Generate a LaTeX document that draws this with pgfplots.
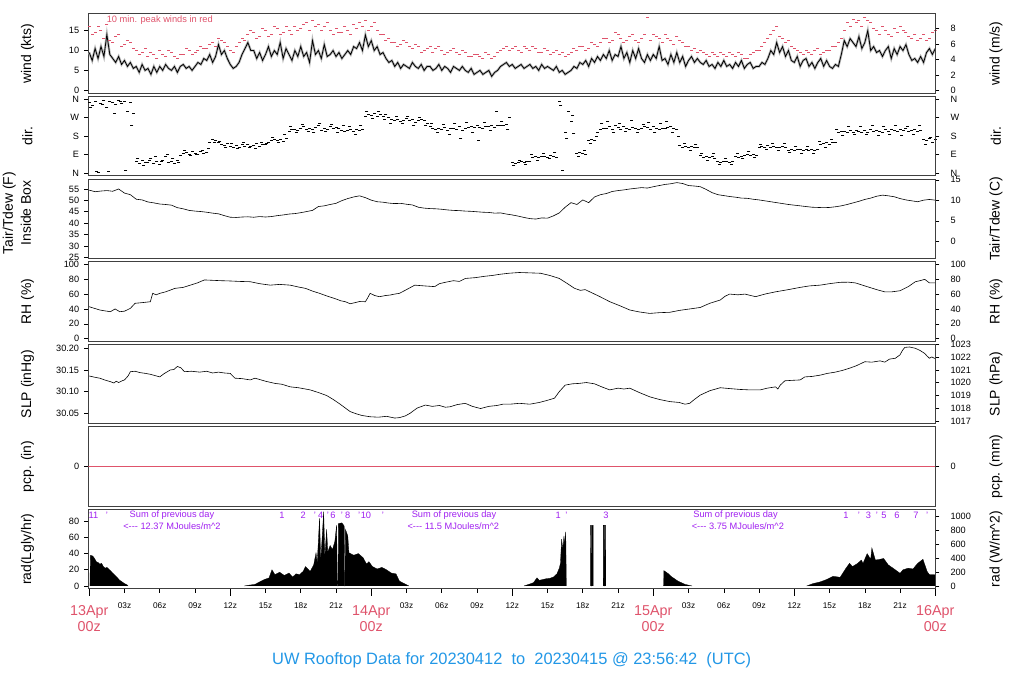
\documentclass[border=0pt]{standalone}
\usepackage{fontspec}
\setmainfont{Liberation Sans}
\usepackage{pgfplots}
\pgfplotsset{compat=1.18}
\definecolor{rred}{HTML}{DF536B}
\definecolor{rblue}{HTML}{2297E6}
\definecolor{rpurple}{HTML}{A020F0}
\newcommand{\tfs}{\fontsize{9.2}{11}\selectfont}
\newcommand{\lfs}{\fontsize{14}{16}\selectfont}
\newcommand{\sfs}{\fontsize{9.3}{11}\selectfont}
\pgfplotsset{
 base/.style={scale only axis, width=847bp, height=79.3bp, xmin=-0.08, xmax=72, clip mode=individual,
   tick align=outside, major tick length=4bp, tick style={black, line width=0.6bp},
   axis line style={black!75, line width=1bp}},
 lp/.style={base, ytick pos=left, xtick=\empty, yticklabel style={font=\tfs, inner sep=0pt, anchor=east, xshift=-5bp}},
 rp/.style={base, axis x line=none, axis y line*=right, yticklabel style={font=\tfs, inner sep=0pt, anchor=west, xshift=11bp}},
}
\tikzset{
 pline/.style={black, line width=0.6bp},
 pnum/.style={text=rpurple, font=\sfs},
}
\begin{document}
\begin{tikzpicture}[x=1bp,y=1bp]
\path[use as bounding box] (0,0) rectangle (1024,700);

% ---------------- wind ----------------
\begin{axis}[lp, at={(88.3bp,606.7bp)}, ymin=-0.755, ymax=19.2, ytick={0,5,10,15}, yticklabels={0,5,10,15}]
\addplot[gray!55, line width=2.4bp] coordinates {
(0,9.5)(0.25,7.5)(0.5,10.5)(0.75,8)(1,11)(1.25,8.5)(1.5,14)(1.75,9)(2,8)(2.25,7)(2.5,8.5)(2.75,6.5)
(3,7.5)(3.25,6)(3.5,7)(3.75,5.5)(4,6)(4.25,4.5)(4.5,6.5)(4.75,5)(5,5.5)(5.25,4)(5.5,6)(5.75,4.5)
(6,6)(6.25,5)(6.5,6.5)(6.75,5.5)(7,5)(7.25,6)(7.5,4.5)(7.75,6)(8,6.5)(8.25,5.5)(8.5,6)(8.75,5)
(9,6)(9.25,7)(9.5,6.5)(9.75,8)(10,7.5)(10.25,9)(10.5,7)(10.75,8.5)(11,11.5)(11.25,9)(11.5,10)(11.75,8)
(12,6.5)(12.25,5.5)(12.5,6)(12.75,7)(13,9)(13.25,10.5)(13.5,12)(13.75,10)(14,10)(14.25,8)(14.5,9.5)(14.75,7.5)
(15,9)(15.25,11)(15.5,8.5)(15.75,10)(16,9)(16.25,12)(16.5,8)(16.75,10.5)(17,9)(17.25,7.5)(17.5,10)(17.75,8.5)
(18,11)(18.25,8.5)(18.5,9.5)(18.75,7)(19,12.5)(19.25,9)(19.5,10)(19.75,8)(20,11.5)(20.25,8.5)(20.5,9)(20.75,10)
(21,8.5)(21.25,9.5)(21.5,8)(21.75,9)(22,10)(22.25,9)(22.5,11)(22.75,10.5)(23,12)(23.25,10)(23.5,13.9)(23.75,11)
(24,12.5)(24.25,10)(24.5,11)(24.75,9)(25,9.5)(25.25,8)(25.5,7)(25.75,7.5)(26,6)(26.25,7)(26.5,5.5)(26.75,6.5)
(27,6)(27.25,5.5)(27.5,7)(27.75,6)(28,5.5)(28.25,6.5)(28.5,5)(28.75,6)(29,6)(29.25,5)(29.5,5.5)(29.75,6.5)
(30,5)(30.25,6)(30.5,5.5)(30.75,4.5)(31,6)(31.25,5.5)(31.5,5)(31.75,6)(32,5)(32.25,4.5)(32.5,5.5)(32.75,4)
(33,4.5)(33.25,5)(33.5,4)(33.75,4.5)(34,5)(34.25,3.5)(34.5,4.5)(34.75,5)(35,6)(35.25,6.5)(35.5,7)(35.75,6)
(36,6.5)(36.25,5.5)(36.5,6)(36.75,6.5)(37,5.5)(37.25,6)(37.5,6.5)(37.75,5.5)(38,6)(38.25,5)(38.5,6.5)(38.75,5.5)
(39,6)(39.25,5.5)(39.5,5)(39.75,6)(40,4.5)(40.25,5)(40.5,4)(40.75,4.5)(41,5)(41.25,6)(41.5,5.5)(41.75,7)
(42,6.5)(42.25,7.5)(42.5,6)(42.75,8)(43,7)(43.25,8.5)(43.5,7.5)(43.75,9)(44,8)(44.25,10)(44.5,7.5)(44.75,9)
(45,8.5)(45.25,11)(45.5,8)(45.75,9.5)(46,7)(46.25,10)(46.5,8)(46.75,10.5)(47,8)(47.25,7)(47.5,9)(47.75,7.5)
(48,9)(48.25,8)(48.5,11)(48.75,7.5)(49,8)(49.25,6.5)(49.5,9)(49.75,7)(50,9.5)(50.25,7)(50.5,8.5)(50.75,6)
(51,7.5)(51.25,8.5)(51.5,7)(51.75,8)(52,7)(52.25,6.5)(52.5,7.5)(52.75,6)(53,6.5)(53.25,5.5)(53.5,7)(53.75,6)
(54,7.5)(54.25,6)(54.5,6.5)(54.75,5.5)(55,7)(55.25,6)(55.5,7.5)(55.75,5.5)(56,6.5)(56.25,7)(56.5,5.5)(56.75,6)
(57,6)(57.25,7)(57.5,6.5)(57.75,8)(58,10)(58.25,9)(58.5,12)(58.75,9.5)(59,11)(59.25,8.5)(59.5,10)(59.75,7.5)
(60,7)(60.25,8.5)(60.5,6)(60.75,7.5)(61,8)(61.25,6)(61.5,7)(61.75,5.5)(62,7)(62.25,8)(62.5,6)(62.75,7.5)
(63,6)(63.25,5.5)(63.5,6.5)(63.75,6)(64,9)(64.25,12.5)(64.5,11)(64.75,13)(65,12)(65.25,11)(65.5,13.5)(65.75,10.5)
(66,12)(66.25,15)(66.5,10)(66.75,11)(67,9.5)(67.25,10)(67.5,8.5)(67.75,10)(68,11)(68.25,8)(68.5,10.5)(68.75,9)
(69,11)(69.25,10)(69.5,11.5)(69.75,9)(70,7.5)(70.25,8)(70.5,7)(70.75,8.5)(71,7)(71.25,9.5)(71.5,10.5)(71.75,9)(72,10.5)};
\addplot[black, line width=0.8bp] coordinates {
(0,9.5)(0.25,7.5)(0.5,10.5)(0.75,8)(1,11)(1.25,8.5)(1.5,14)(1.75,9)(2,8)(2.25,7)(2.5,8.5)(2.75,6.5)
(3,7.5)(3.25,6)(3.5,7)(3.75,5.5)(4,6)(4.25,4.5)(4.5,6.5)(4.75,5)(5,5.5)(5.25,4)(5.5,6)(5.75,4.5)
(6,6)(6.25,5)(6.5,6.5)(6.75,5.5)(7,5)(7.25,6)(7.5,4.5)(7.75,6)(8,6.5)(8.25,5.5)(8.5,6)(8.75,5)
(9,6)(9.25,7)(9.5,6.5)(9.75,8)(10,7.5)(10.25,9)(10.5,7)(10.75,8.5)(11,11.5)(11.25,9)(11.5,10)(11.75,8)
(12,6.5)(12.25,5.5)(12.5,6)(12.75,7)(13,9)(13.25,10.5)(13.5,12)(13.75,10)(14,10)(14.25,8)(14.5,9.5)(14.75,7.5)
(15,9)(15.25,11)(15.5,8.5)(15.75,10)(16,9)(16.25,12)(16.5,8)(16.75,10.5)(17,9)(17.25,7.5)(17.5,10)(17.75,8.5)
(18,11)(18.25,8.5)(18.5,9.5)(18.75,7)(19,12.5)(19.25,9)(19.5,10)(19.75,8)(20,11.5)(20.25,8.5)(20.5,9)(20.75,10)
(21,8.5)(21.25,9.5)(21.5,8)(21.75,9)(22,10)(22.25,9)(22.5,11)(22.75,10.5)(23,12)(23.25,10)(23.5,13.9)(23.75,11)
(24,12.5)(24.25,10)(24.5,11)(24.75,9)(25,9.5)(25.25,8)(25.5,7)(25.75,7.5)(26,6)(26.25,7)(26.5,5.5)(26.75,6.5)
(27,6)(27.25,5.5)(27.5,7)(27.75,6)(28,5.5)(28.25,6.5)(28.5,5)(28.75,6)(29,6)(29.25,5)(29.5,5.5)(29.75,6.5)
(30,5)(30.25,6)(30.5,5.5)(30.75,4.5)(31,6)(31.25,5.5)(31.5,5)(31.75,6)(32,5)(32.25,4.5)(32.5,5.5)(32.75,4)
(33,4.5)(33.25,5)(33.5,4)(33.75,4.5)(34,5)(34.25,3.5)(34.5,4.5)(34.75,5)(35,6)(35.25,6.5)(35.5,7)(35.75,6)
(36,6.5)(36.25,5.5)(36.5,6)(36.75,6.5)(37,5.5)(37.25,6)(37.5,6.5)(37.75,5.5)(38,6)(38.25,5)(38.5,6.5)(38.75,5.5)
(39,6)(39.25,5.5)(39.5,5)(39.75,6)(40,4.5)(40.25,5)(40.5,4)(40.75,4.5)(41,5)(41.25,6)(41.5,5.5)(41.75,7)
(42,6.5)(42.25,7.5)(42.5,6)(42.75,8)(43,7)(43.25,8.5)(43.5,7.5)(43.75,9)(44,8)(44.25,10)(44.5,7.5)(44.75,9)
(45,8.5)(45.25,11)(45.5,8)(45.75,9.5)(46,7)(46.25,10)(46.5,8)(46.75,10.5)(47,8)(47.25,7)(47.5,9)(47.75,7.5)
(48,9)(48.25,8)(48.5,11)(48.75,7.5)(49,8)(49.25,6.5)(49.5,9)(49.75,7)(50,9.5)(50.25,7)(50.5,8.5)(50.75,6)
(51,7.5)(51.25,8.5)(51.5,7)(51.75,8)(52,7)(52.25,6.5)(52.5,7.5)(52.75,6)(53,6.5)(53.25,5.5)(53.5,7)(53.75,6)
(54,7.5)(54.25,6)(54.5,6.5)(54.75,5.5)(55,7)(55.25,6)(55.5,7.5)(55.75,5.5)(56,6.5)(56.25,7)(56.5,5.5)(56.75,6)
(57,6)(57.25,7)(57.5,6.5)(57.75,8)(58,10)(58.25,9)(58.5,12)(58.75,9.5)(59,11)(59.25,8.5)(59.5,10)(59.75,7.5)
(60,7)(60.25,8.5)(60.5,6)(60.75,7.5)(61,8)(61.25,6)(61.5,7)(61.75,5.5)(62,7)(62.25,8)(62.5,6)(62.75,7.5)
(63,6)(63.25,5.5)(63.5,6.5)(63.75,6)(64,9)(64.25,12.5)(64.5,11)(64.75,13)(65,12)(65.25,11)(65.5,13.5)(65.75,10.5)
(66,12)(66.25,15)(66.5,10)(66.75,11)(67,9.5)(67.25,10)(67.5,8.5)(67.75,10)(68,11)(68.25,8)(68.5,10.5)(68.75,9)
(69,11)(69.25,10)(69.5,11.5)(69.75,9)(70,7.5)(70.25,8)(70.5,7)(70.75,8.5)(71,7)(71.25,9.5)(71.5,10.5)(71.75,9)(72,10.5)};
\addplot[only marks, mark=-, mark size=1.5bp, rred, mark options={line width=0.5bp}] coordinates {
(0,16)(0.5,14.5)(1,15)(1.5,16.5)(2,12)(2.5,14)(3,11.5)(3.5,12)(4,10)(4.5,9.5)(5,8.5)(5.5,9)(6,10)(6.5,8.5)
(7,9.5)(7.5,8)(8,9)(8.5,10)(9,9.5)(9.5,11)(10,10.5)(10.5,12)(11,13)(11.5,12)(12,10)(12.5,11)(13,13)(13.5,14)
(14,14.5)(14.5,13.5)(15,15)(15.5,14)(16,15.5)(16.5,14.5)(17,15)(17.5,16)(18,15.5)(18.5,17)(19,17.5)(19.5,16.5)
(20,16)(20.5,15)(21,15.5)(21.5,14.5)(22,15)(22.5,16.5)(23,17)(23.5,17.5)(24,16)(24.5,15)(25,14)(25.5,13)
(26,12)(26.5,11.5)(27,12)(27.5,10.5)(28,11)(28.5,10)(29,11)(29.5,10.5)(30,10)(30.5,9.5)(31,10.5)(31.5,9)
(32,9.5)(32.5,8.5)(33,9)(33.5,8)(34,9)(34.5,8.5)(35,10)(35.5,11)(36,10.5)(36.5,10)(37,11)(37.5,10)(38,10.5)
(38.5,9.5)(39,10)(39.5,9.5)(40,9)(40.5,8.5)(41,9.5)(41.5,10)(42,11)(42.5,10.5)(43,11.5)(43.5,12)(44,13)
(44.5,12.5)(45,14)(45.5,12)(46,13.5)(46.5,12.5)(47,13)(47.5,18.5)(48,14)(48.5,13)(49,14)(49.5,12.5)(50,13.5)
(50.5,12)(51,11)(51.5,10.5)(52,10)(52.5,9)(53,9.5)(53.5,8.5)(54,9)(54.5,9.5)(55,8.5)(55.5,9)(56,8)(56.5,9.5)
(57,10)(57.5,12)(58,14)(58.5,16)(59,13)(59.5,12.5)(60,10.5)(60.5,9.5)(61,10)(61.5,9)(62,10.5)(62.5,9.5)
(63,10)(63.5,11)(64,13)(64.5,17)(65,18)(65.5,17.5)(66,18.5)(66.5,17)(67,15)(67.5,16)(68,14)(68.5,15.5)
(69,16)(69.5,14.5)(70,13)(70.5,12.5)(71,14)(71.5,13)(72,15)};
\addplot[only marks, mark=-, mark size=1.5bp, rred, mark options={line width=0.5bp}] coordinates {
(0.25,14)(0.75,16)(1.25,13)(1.75,12.5)(2.25,13.5)(2.75,11)(3.25,12.5)(3.75,10.5)(4.25,9)(4.75,10.5)(5.25,9.5)(5.75,8)
(6.25,9)(6.75,10)(7.25,8.5)(7.75,9)(8.25,10.5)(8.75,9)(9.25,10)(9.75,10.5)(10.25,11.5)(10.75,11)(11.25,12.5)(11.75,11)
(12.25,9.5)(12.75,12)(13.25,12.5)(13.75,15)(14.25,13)(14.75,15.5)(15.25,13.5)(15.75,16)(16.25,14)(16.75,16)(17.25,14)(17.75,15)
(18.25,16.5)(18.75,15)(19.25,16)(19.75,15)(20.25,17)(20.75,14)(21.25,14.5)(21.75,16)(22.25,14)(22.75,15.5)(23.25,16)(23.75,15)
(24.25,17)(24.75,14)(25.25,12.5)(25.75,12)(26.25,11)(26.75,12.5)(27.25,11)(27.75,11.5)(28.25,9.5)(28.75,10.5)(29.25,9.5)(29.75,11)
(30.25,9)(30.75,10)(31.25,9.5)(31.75,10)(32.25,8.5)(32.75,9)(33.25,8.5)(33.75,9.5)(34.25,8)(34.75,9.5)(35.25,10.5)(35.75,10)
(36.25,11)(36.75,9.5)(37.25,10.5)(37.75,11)(38.25,9.5)(38.75,10.5)(39.25,9)(39.75,10)(40.25,9.5)(40.75,9)(41.25,10.5)(41.75,11)
(42.25,10)(42.75,12)(43.25,11)(43.75,13)(44.25,12)(44.75,14.5)(45.25,13)(45.75,12.5)(46.25,14)(46.75,12)(47.25,14)(47.75,12.5)
(48.25,13.5)(48.75,12)(49.25,13)(49.75,11.5)(50.25,12.5)(50.75,11)(51.25,10)(51.75,9.5)(52.25,9.5)(52.75,8.5)(53.25,9)(53.75,9.5)
(54.25,8.5)(54.75,9)(55.25,9.5)(55.75,8)(56.25,9)(56.75,10)(57.25,11)(57.75,13)(58.25,15)(58.75,13.5)(59.25,12)(59.75,11)
(60.25,10)(60.75,9)(61.25,9.5)(61.75,10)(62.25,9)(62.75,10)(63.25,11)(63.75,12)(64.25,15)(64.75,16)(65.25,17)(65.75,16)
(66.25,17.5)(66.75,15.5)(67.25,14)(67.75,15)(68.25,13.5)(68.75,14.5)(69.25,15)(69.75,13.5)(70.25,14)(70.75,13)(71.25,12.5)(71.75,14.5)};
\node[text=rred, font=\sfs] at (axis cs:6.0,17.7) {10 min. peak winds in red};
\end{axis}
\begin{axis}[rp, at={(88.3bp,606.7bp)}, ymin=-0.755, ymax=19.2, ytick={0,3.888,7.775,11.663,15.551}, yticklabels={0,2,4,6,8}]
\end{axis}

% ---------------- direction ----------------
\begin{axis}[lp, at={(88.3bp,524.1bp)}, ymin=-12.6, ymax=371.6, ytick={0,90,180,270,360}, yticklabels={N,E,S,W,N}]
\addplot[only marks, mark=-, mark size=1.5bp, black, mark options={line width=0.7bp}] coordinates {
(0,345)(0.25,330)(0.5,350)(0.75,5)(1,340)(1.25,355)(1.5,320)(1.75,350)(2,345)(2.25,335)(2.5,355)(2.75,340)
(3,350)(3.25,300)(3.5,345)(3.75,290)(4,60)(4.25,50)(4.5,65)(4.75,55)(5,55)(5.25,70)(5.5,50)(5.75,60)
(6,45)(6.25,62)(6.5,80)(6.75,55)(7,58)(7.25,48)(7.5,65)(7.75,85)(8,95)(8.25,100)(8.5,90)(8.75,105)
(9,98)(9.25,92)(9.5,104)(9.75,96)(10,100)(10.25,150)(10.5,165)(10.75,158)(11,150)(11.25,140)(11.5,135)(11.75,145)
(12,130)(12.25,125)(12.5,135)(12.75,128)(13,140)(13.25,132)(13.5,138)(13.75,130)(14,135)(14.25,145)(14.5,130)(14.75,140)
(15,138)(15.25,150)(15.5,160)(15.75,165)(16,158)(16.25,162)(16.5,155)(16.75,168)(17,205)(17.25,212)(17.5,215)(17.75,210)
(18,218)(18.25,225)(18.5,212)(18.75,220)(19,215)(19.25,222)(19.5,230)(19.75,210)(20,220)(20.25,214)(20.5,226)(20.75,218)
(21,222)(21.25,216)(21.5,210)(21.75,205)(22,210)(22.25,215)(22.5,205)(22.75,212)(23,208)(23.25,214)(23.5,275)(23.75,285)
(24,280)(24.25,290)(24.5,275)(24.75,285)(25,278)(25.25,284)(25.5,270)(25.75,260)(26,255)(26.25,262)(26.5,250)(26.75,258)
(27,265)(27.25,255)(27.5,260)(27.75,248)(28,258)(28.25,262)(28.5,255)(28.75,240)(29,225)(29.25,218)(29.5,212)(29.75,220)
(30,215)(30.25,222)(30.5,210)(30.75,218)(31,220)(31.25,214)(31.5,225)(31.75,210)(32,218)(32.25,222)(32.5,228)(32.75,224)
(33,230)(33.25,222)(33.5,218)(33.75,226)(34,228)(34.25,232)(34.5,224)(34.75,230)(35,234)(35.25,230)(35.5,236)(35.75,270)
(36,55)(36.25,50)(36.5,54)(36.75,58)(37,52)(37.25,56)(37.5,60)(37.75,78)(38,82)(38.25,76)(38.5,84)(38.75,80)
(39,78)(39.25,85)(39.5,80)(39.75,76)(40,350)(40.25,15)(40.5,200)(40.75,300)(41,250)(41.25,195)(41.5,95)(41.75,100)
(42,98)(42.25,94)(42.5,160)(42.75,165)(43,158)(43.25,200)(43.5,215)(43.75,220)(44,218)(44.25,225)(44.5,212)(44.75,230)
(45,222)(45.25,215)(45.5,228)(45.75,218)(46,214)(46.25,224)(46.5,220)(46.75,212)(47,218)(47.25,226)(47.5,222)(47.75,215)
(48,225)(48.25,218)(48.5,212)(48.75,220)(49,216)(49.25,222)(49.5,226)(49.75,218)(50,214)(50.25,135)(50.5,128)(50.75,132)
(51,126)(51.25,130)(51.5,124)(51.75,128)(52,85)(52.25,78)(52.5,82)(52.75,76)(53,80)(53.25,74)(53.5,58)(53.75,54)
(54,56)(54.25,60)(54.5,52)(54.75,58)(55,80)(55.25,76)(55.5,84)(55.75,88)(56,90)(56.25,86)(56.5,92)(56.75,88)
(57,125)(57.25,130)(57.5,128)(57.75,134)(58,126)(58.25,132)(58.5,128)(58.75,124)(59,130)(59.25,126)(59.5,112)(59.75,116)
(60,110)(60.25,114)(60.5,118)(60.75,112)(61,115)(61.25,110)(61.5,116)(61.75,112)(62,118)(62.25,140)(62.5,145)(62.75,148)
(63,142)(63.25,148)(63.5,150)(63.75,200)(64,202)(64.25,205)(64.5,198)(64.75,206)(65,200)(65.25,210)(65.5,204)(65.75,198)
(66,206)(66.25,200)(66.5,214)(66.75,204)(67,210)(67.25,202)(67.5,198)(67.75,212)(68,205)(68.25,215)(68.5,208)(68.75,202)
(69,212)(69.25,206)(69.5,218)(69.75,204)(70,208)(70.25,214)(70.5,204)(70.75,210)(71,165)(71.25,158)(71.5,168)(71.75,150)(72,162)};
\addplot[only marks, mark=-, mark size=1.5bp, black, mark options={line width=0.7bp}] coordinates {
(0.125,320)(0.625,10)(1.125,335)(1.625,8)(2.125,290)(2.625,350)(3.125,15)(3.625,230)
(4.125,70)(4.625,40)(5.125,65)(5.625,80)(6.125,60)(6.625,90)(7.125,70)(7.625,52)
(8.125,110)(8.625,85)(9.125,90)(9.625,112)(10.125,120)(10.625,150)(11.125,155)(11.625,125)
(12.125,145)(12.625,120)(13.125,150)(13.625,125)(14.125,120)(14.625,150)(15.125,145)(15.625,175)
(16.125,150)(16.625,190)(17.125,225)(17.625,200)(18.125,235)(18.625,205)(19.125,200)(19.625,240)
(20.125,205)(20.625,235)(21.125,200)(21.625,230)(22.125,225)(22.625,190)(23.125,230)(23.625,300)
(24.125,265)(24.625,300)(25.125,260)(25.625,240)(26.125,275)(26.625,240)(27.125,275)(27.625,230)
(28.125,270)(28.625,230)(29.125,240)(29.625,200)(30.125,235)(30.625,190)(31.125,240)(31.625,170)
(32.125,245)(32.625,200)(33.125,160)(33.625,245)(34.125,210)(34.625,300)(35.125,250)(35.625,215)
(36.125,40)(36.625,65)(37.125,45)(37.625,90)(38.125,65)(38.625,95)(39.125,70)(39.625,100)
(40.125,330)(40.625,170)(41.125,280)(41.625,80)(42.125,110)(42.625,145)(43.125,180)(43.625,240)
(44.125,250)(44.625,200)(45.125,240)(45.625,205)(46.125,255)(46.625,200)(47.125,235)(47.625,245)
(48.125,200)(48.625,240)(49.125,250)(49.625,200)(50.125,180)(50.625,145)(51.125,110)(51.625,140)
(52.125,95)(52.625,65)(53.125,95)(53.625,45)(54.125,70)(54.625,45)(55.125,95)(55.625,70)
(56.125,105)(56.625,75)(57.125,140)(57.625,115)(58.125,145)(58.625,110)(59.125,145)(59.625,100)
(60.125,130)(60.625,95)(61.125,130)(61.625,95)(62.125,155)(62.625,125)(63.125,165)(63.625,215)
(64.125,185)(64.625,225)(65.125,190)(65.625,225)(66.125,190)(66.625,230)(67.125,185)(67.625,225)
(68.125,190)(68.625,230)(69.125,185)(69.625,225)(70.125,190)(70.625,230)(71.125,140)(71.625,175)};
\end{axis}
\begin{axis}[rp, at={(88.3bp,524.1bp)}, ymin=-12.6, ymax=371.6, ytick={0,90,180,270,360}, yticklabels={N,E,S,W,N}]
\end{axis}

% ---------------- temperature ----------------
\begin{axis}[lp, at={(88.3bp,441.5bp)}, ymin=24.5, ymax=59.3, ytick={25,30,35,40,45,50,55}, yticklabels={25,30,35,40,45,50,55}]
\addplot[pline] coordinates {
(0,54.5)(0.5,53.8)(1,54.1)(1.5,54.3)(2,54.0)(2.5,55.0)(3,53.2)(3.5,52.5)(4,50.5)(4.5,50.2)(5,49.3)(5.5,48.9)
(6,48.4)(6.5,48.2)(7,47.9)(7.5,46.8)(8,46.3)(8.5,45.6)(9,45.3)(9.5,45.1)(10,44.8)(10.5,44.4)(11,44.1)(11.5,43.3)
(12,42.6)(12.5,42.5)(13,42.7)(13.5,42.8)(14,42.6)(14.5,42.9)(15,42.7)(15.5,42.9)(16,43.3)(16.5,43.6)(17,44.0)(17.5,44.2)
(18,44.6)(18.5,45.1)(19,45.6)(19.5,47.3)(20,47.6)(20.5,48.2)(21,48.7)(21.5,49.9)(22,50.8)(22.5,51.5)(23,52.0)(23.5,51.2)
(24,50.1)(24.5,49.4)(25,49.2)(25.5,48.8)(26,48.6)(26.5,48.7)(27,48.3)(27.5,48.0)(28,47.0)(28.5,46.6)(29,46.4)(29.5,46.3)
(30,46.1)(30.5,45.8)(31,45.6)(31.5,45.5)(32,45.3)(32.5,45.2)(33,45.0)(33.5,44.8)(34,44.7)(34.5,44.4)(35,44.5)(35.5,44.0)
(36,43.6)(36.5,43.1)(37,42.5)(37.5,42.0)(38,41.8)(38.5,42.3)(39,42.2)(39.5,43.2)(40,44.5)(40.5,47.0)(41,49.0)(41.5,48.2)
(42,50.2)(42.5,49.0)(43,51.5)(43.5,52.5)(44,53.0)(44.5,53.9)(45,54.3)(45.5,54.6)(46,55.0)(46.5,55.3)(47,55.6)(47.5,55.4)
(48,56.0)(48.5,56.5)(49,57.0)(49.5,57.3)(50,57.8)(50.5,57.4)(51,56.5)(51.5,56.3)(52,56.0)(52.5,54.8)(53,53.4)(53.5,52.5)
(54,52.1)(54.5,51.7)(55,51.4)(55.5,51.0)(56,50.9)(56.5,50.5)(57,50.2)(57.5,49.8)(58,49.4)(58.5,49.0)(59,48.6)(59.5,48.2)
(60,47.9)(60.5,47.6)(61,47.3)(61.5,47.0)(62,46.9)(62.5,46.8)(63,46.9)(63.5,47.2)(64,47.6)(64.5,48.2)(65,48.9)(65.5,49.6)
(66,50.4)(66.5,51.0)(67,51.8)(67.5,52.3)(68,52.0)(68.5,51.6)(69,50.8)(69.5,50.2)(70,49.8)(70.5,49.4)(71,50.1)(71.5,50.4)(72,50.1)};
\end{axis}
\begin{axis}[rp, at={(88.3bp,441.5bp)}, ymin=24.5, ymax=59.3, ytick={32,41,50,59}, yticklabels={0,5,10,15}]
\end{axis}

% ---------------- RH ----------------
\begin{axis}[lp, at={(88.3bp,358.9bp)}, ymin=-3.2, ymax=103.4, ytick={0,20,40,60,80,100}, yticklabels={0,20,40,60,80,100}]
\addplot[pline] coordinates {
(0,43)(0.4,41)(0.9,38.6)(1.3,37.5)(1.8,36.3)(2.2,40)(2.6,36.3)(3.0,37)(3.5,40.8)(3.9,47.6)(4.5,48.5)(5.2,49.7)
(5.4,61)(5.7,59)(6.0,61)(6.5,63)(7.3,67.7)(8.0,69)(8.6,72)(9.2,75)(9.8,79)(10.5,78.5)(11.2,78)(12.0,77.6)
(12.8,77)(13.7,76.6)(14.5,74)(15.4,72)(16.2,73)(17.1,72)(17.8,69.5)(18.4,67.7)(19.0,64)(19.6,61)(20.3,57)(20.9,54)
(21.4,51)(21.8,49.7)(22.2,47)(22.6,48.4)(23.0,50)(23.5,49.7)(23.7,55)(23.9,61)(24.3,58)(24.7,56.5)(25.2,58)(25.6,58.7)
(26.0,60)(26.4,61)(27.0,66)(27.7,72)(28.5,71)(29.4,70)(29.8,74)(30.3,75.8)(31.0,78)(31.5,77)(32.0,81)(32.8,82)
(33.7,84)(34.3,85)(34.9,86.5)(35.7,88)(36.6,89)(37.5,88.5)(38.4,88)(39.2,85)(40.0,81)(40.6,75)(41.3,67.7)(41.8,65)
(42.2,66)(42.6,63)(43.4,57)(44.3,49.7)(45.2,44)(46.0,38.6)(46.8,36)(47.7,34)(48.5,35)(49.4,35.5)(50.2,38)(51.1,40)
(52.0,42)(52.8,47.6)(53.7,52)(54.1,57)(54.5,60)(55.2,59)(55.8,60)(56.7,56.5)(57.5,60)(58.4,63)(59.5,66)(60.5,69)
(61.3,71)(62.2,72)(63.0,74)(63.9,75.8)(64.6,76)(65.2,75)(65.8,72)(66.4,69)(67.0,66)(67.7,63)(68.3,63)(69.0,64.5)
(69.7,70)(70.3,76.6)(70.7,78)(71.1,79.8)(71.5,75)(72.0,75)};
\end{axis}
\begin{axis}[rp, at={(88.3bp,358.9bp)}, ymin=-3.2, ymax=103.4, ytick={0,20,40,60,80,100}, yticklabels={0,20,40,60,80,100}]
\end{axis}

% ---------------- SLP ----------------
\begin{axis}[lp, at={(88.3bp,276.3bp)}, ymin=30.026, ymax=30.209, ytick={30.05,30.10,30.15,30.20}, yticklabels={30.05,30.10,30.15,30.20}]
\addplot[pline] coordinates {
(0,30.136)(0.5,30.133)(0.9,30.131)(1.3,30.127)(1.8,30.123)(2.1,30.120)(2.3,30.124)(2.5,30.121)(2.8,30.125)(3.0,30.127)
(3.3,30.136)(3.5,30.146)(3.9,30.147)(4.3,30.144)(4.8,30.142)(5.2,30.140)(5.6,30.137)(6.0,30.134)(6.4,30.142)(6.9,30.150)
(7.2,30.151)(7.5,30.158)(7.8,30.155)(8.1,30.146)(8.7,30.147)(9.4,30.145)(10.0,30.147)(10.5,30.143)(11.0,30.145)(11.5,30.143)
(12.0,30.142)(12.4,30.131)(13.0,30.130)(13.7,30.127)(14.1,30.131)(14.5,30.128)(15.0,30.124)(15.8,30.119)(16.4,30.117)(17.1,30.111)
(17.8,30.109)(18.8,30.104)(19.6,30.097)(20.2,30.091)(20.7,30.083)(21.3,30.072)(21.8,30.062)(22.2,30.054)(22.7,30.049)(23.2,30.045)
(23.9,30.042)(24.6,30.041)(25.3,30.043)(26.0,30.039)(26.4,30.040)(26.9,30.044)(27.3,30.050)(27.9,30.062)(28.6,30.069)(29.2,30.066)
(29.8,30.068)(30.3,30.064)(30.7,30.065)(31.3,30.070)(32.0,30.073)(32.6,30.066)(33.3,30.061)(34.0,30.066)(34.7,30.068)(35.2,30.071)
(35.8,30.071)(36.6,30.073)(37.5,30.071)(38.3,30.075)(39.0,30.080)(39.6,30.085)(40.0,30.100)(40.5,30.115)(41.1,30.118)(41.7,30.119)
(42.3,30.121)(43.0,30.118)(43.7,30.110)(44.3,30.104)(45.0,30.108)(45.5,30.106)(46.0,30.108)(46.8,30.098)(47.7,30.088)(48.5,30.082)
(49.4,30.077)(50.2,30.075)(50.7,30.071)(51.1,30.073)(51.5,30.082)(52.0,30.092)(52.8,30.102)(53.7,30.109)(54.5,30.107)(55.4,30.105)
(56.2,30.104)(57.1,30.104)(57.7,30.108)(58.4,30.111)(58.6,30.106)(58.8,30.115)(59.2,30.125)(59.8,30.126)(60.5,30.127)(60.9,30.134)
(61.5,30.135)(62.2,30.138)(62.8,30.142)(63.5,30.145)(64.1,30.149)(64.7,30.154)(65.3,30.160)(66.0,30.169)(66.6,30.168)(67.3,30.171)
(67.7,30.168)(68.1,30.175)(68.6,30.177)(69.0,30.185)(69.2,30.195)(69.4,30.202)(69.8,30.203)(70.3,30.200)(70.7,30.195)(71.1,30.188)
(71.3,30.182)(71.5,30.177)(71.7,30.180)(72.0,30.176)};
\end{axis}
\begin{axis}[rp, at={(88.3bp,276.3bp)}, ymin=30.026, ymax=30.209,
  ytick={30.0319,30.0614,30.0910,30.1205,30.1500,30.1795,30.2090}, yticklabels={1017,1018,1019,1020,1021,1022,1023}]
\end{axis}

% ---------------- precipitation ----------------
\begin{axis}[lp, at={(88.3bp,193.7bp)}, ymin=-1, ymax=1, ytick={0}, yticklabels={0}]
\addplot[rred, line width=0.7bp] coordinates {(-0.08,0)(72,0)};
\end{axis}
\begin{axis}[rp, at={(88.3bp,193.7bp)}, ymin=-1, ymax=1, ytick={0}, yticklabels={0}]
\end{axis}

% ---------------- radiation ----------------
\begin{axis}[lp, at={(88.3bp,111.1bp)}, ymin=-3.6, ymax=94.4, ytick={0,20,40,60,80}, yticklabels={0,20,40,60,80},
  xtick pos=bottom,
  xtick={3,6,9,15,18,21,27,30,33,39,42,45,51,54,57,63,66,69},
  xticklabels={03z,06z,09z,15z,18z,21z,03z,06z,09z,15z,18z,21z,03z,06z,09z,15z,18z,21z},
  xticklabel style={font=\fontsize{8.3}{10}\selectfont, inner sep=0pt, yshift=-10bp},
  extra x ticks={0,12,24,36,48,60,72}, extra x tick labels={,12z,,12z,,12z,},
  extra x tick style={major tick length=7bp, xticklabel style={yshift=3bp}}]
\addplot[fill=black, draw=black, line width=0.3bp] coordinates {
(0.06,0)(0.1,38)(0.3,37)(0.45,34)(0.6,30)(0.75,29)(0.9,27)(1.05,28)(1.2,24)(1.35,22)(1.5,23)(1.65,21)(1.8,19)
(2.0,16)(2.2,13)(2.4,10)(2.6,7)(2.8,5)(3.0,3)(3.2,1.5)(3.3,0)};
\addplot[fill=black, draw=black, line width=0.3bp] coordinates {
(13.2,0)(13.6,1)(14.1,2)(14.5,5)(14.9,8)(15.3,10)(15.55,20)(15.8,14)(16.2,17)(16.6,13)(17.0,16)(17.3,11)(17.6,15)
(17.9,14)(18.2,18)(18.4,24)(18.8,18)(19.1,26)(19.3,41)(19.4,28)(19.6,84)(19.7,30)(19.95,92)(20.05,35)(20.2,70)
(20.3,42)(20.5,50)(20.7,45)(20.9,55)(21.05,75)(21.12,0)(21.18,0)(21.2,77)(21.5,78)(21.7,74)(21.73,0)(21.77,0)(21.8,70)
(22.0,62)(22.1,41)(22.5,38)(22.9,40)(23.3,35)(23.6,27)(23.8,30)(24.1,24)(24.5,21)(24.9,23)(25.3,20)(25.7,16)
(26.1,15)(26.4,6)(26.8,3)(27.2,0)};
\addplot[fill=black, draw=black, line width=0.3bp] coordinates {
(37.0,0)(37.4,2)(37.8,4)(38.1,10)(38.3,7)(38.6,8)(38.9,9)(39.2,9.5)(39.5,11)(39.8,15)(40.0,22)(40.1,28)(40.2,58)
(40.3,45)(40.4,62)(40.45,50)(40.55,67)(40.6,0)};
\addplot[fill=black, draw=black, line width=0.3bp] coordinates {
(42.65,0)(42.66,75)(42.71,75)(42.72,0)(42.77,0)(42.78,75)(42.88,75)(42.89,0)};
\addplot[fill=black, draw=black, line width=0.3bp] coordinates {
(43.74,0)(43.75,75)(43.8,75)(43.81,0)(43.84,0)(43.85,75)(43.95,75)(43.96,0)};
\addplot[fill=black, draw=black, line width=0.3bp] coordinates {
(48.88,0)(48.9,19)(49.1,17)(49.3,15)(49.5,12)(49.8,9)(50.1,6)(50.4,4)(50.7,2)(51.0,1)(51.3,0)};
\addplot[fill=black, draw=black, line width=0.3bp] coordinates {
(61.05,0)(61.6,3)(62.2,5)(62.75,8)(63.3,12)(63.9,10.7)(64.4,22)(64.7,28)(64.95,24)(65.4,28)(65.7,32)(65.85,28)
(66.2,40)(66.5,33)(66.6,47)(66.9,32)(67.3,33)(67.6,34)(68.0,26)(68.4,22)(69.0,15.7)(69.25,20)(69.7,22)(70.1,21)
(70.5,28)(70.95,33)(71.3,18)(71.5,14)(71.95,14)(71.99,0)};
% hour labels
\node[pnum] at (axis cs:0.35,87.8) {11};
\node[pnum] at (axis cs:1.51,87.8) {'};
\node[pnum] at (axis cs:16.4,87.8) {1};
\node[pnum] at (axis cs:18.2,87.8) {2};
\node[pnum] at (axis cs:19.2,87.8) {'};
\node[pnum] at (axis cs:19.7,87.8) {4};
\node[pnum] at (axis cs:20.3,87.8) {'};
\node[pnum] at (axis cs:20.74,87.8) {6};
\node[pnum] at (axis cs:21.5,87.8) {'};
\node[pnum] at (axis cs:22.0,87.8) {8};
\node[pnum] at (axis cs:22.96,87.8) {'};
\node[pnum] at (axis cs:23.55,87.8) {10};
\node[pnum] at (axis cs:25.0,87.8) {'};
\node[pnum] at (axis cs:39.9,87.8) {1};
\node[pnum] at (axis cs:40.6,87.8) {'};
\node[pnum] at (axis cs:43.97,87.8) {3};
\node[pnum] at (axis cs:64.4,87.8) {1};
\node[pnum] at (axis cs:65.5,87.8) {'};
\node[pnum] at (axis cs:66.3,87.8) {3};
\node[pnum] at (axis cs:67.03,87.8) {'};
\node[pnum] at (axis cs:67.63,87.8) {5};
\node[pnum] at (axis cs:68.74,87.8) {6};
\node[pnum] at (axis cs:70.36,87.8) {7};
\node[pnum] at (axis cs:71.3,87.8) {'};
\node[pnum] at (axis cs:7.04,87.8) {Sum of previous day};
\node[pnum] at (axis cs:7.04,74.2) {<-{}-{}- 12.37 MJoules/m\^{}2};
\node[pnum] at (axis cs:31.04,87.8) {Sum of previous day};
\node[pnum] at (axis cs:30.98,74.2) {<-{}-{}- 11.5 MJoules/m\^{}2};
\node[pnum] at (axis cs:55.0,87.8) {Sum of previous day};
\node[pnum] at (axis cs:55.2,74.2) {<-{}-{}- 3.75 MJoules/m\^{}2};
% date labels
\node[anchor=base, text=rred, font=\fontsize{14.4}{17}\selectfont] at (axis cs:0,-36.1) {13Apr};
\node[anchor=base, text=rred, font=\fontsize{14.4}{17}\selectfont] at (axis cs:0,-56.6) {00z};
\node[anchor=base, text=rred, font=\fontsize{14.4}{17}\selectfont] at (axis cs:24,-36.1) {14Apr};
\node[anchor=base, text=rred, font=\fontsize{14.4}{17}\selectfont] at (axis cs:24,-56.6) {00z};
\node[anchor=base, text=rred, font=\fontsize{14.4}{17}\selectfont] at (axis cs:48,-36.1) {15Apr};
\node[anchor=base, text=rred, font=\fontsize{14.4}{17}\selectfont] at (axis cs:48,-56.6) {00z};
\node[anchor=base, text=rred, font=\fontsize{14.4}{17}\selectfont] at (axis cs:72,-36.1) {16Apr};
\node[anchor=base, text=rred, font=\fontsize{14.4}{17}\selectfont] at (axis cs:72,-56.6) {00z};
\end{axis}
\begin{axis}[rp, at={(88.3bp,111.1bp)}, ymin=-3.6, ymax=94.4, ytick={0,17.208,34.417,51.625,68.833,86.042}, yticklabels={0,200,400,600,800,1000}]
\end{axis}

% ---------------- axis titles ----------------
\node[rotate=90, font=\lfs] at (27.5,646.35) {wind (kts)};
\node[rotate=90, font=\lfs] at (27.5,563.75) {dir.};
\node[rotate=90, font=\lfs] at (9.3,487) {Tair/Tdew (F)};
\node[rotate=90, font=\lfs] at (26,487) {Inside Box};
\node[rotate=90, font=\lfs] at (27.5,398.55) {RH (\%)};
\node[rotate=90, font=\lfs] at (27.5,315.95) {SLP (inHg)};
\node[rotate=90, font=\lfs] at (27.5,233.35) {pcp. (in)};
\node[rotate=90, font=\lfs] at (27.5,150.75) {rad(Lgly/hr)};
\node[rotate=90, font=\lfs] at (996,646.35) {wind (m/s)};
\node[rotate=90, font=\lfs] at (996,563.75) {dir.};
\node[rotate=90, font=\lfs] at (996,481) {Tair/Tdew (C)};
\node[rotate=90, font=\lfs] at (996,398.55) {RH (\%)};
\node[rotate=90, font=\lfs] at (996,315.95) {SLP (hPa)};
\node[rotate=90, font=\lfs] at (996,233.35) {pcp. (mm)};
\node[rotate=90, font=\lfs] at (996,150.75) {rad (W/m\^{}2)};
\node[anchor=base, text=rblue, font=\fontsize{16.5}{19}\selectfont] at (511.7,35) {UW Rooftop Data for 20230412\ \ to\ \ 20230415 @ 23:56:42\ \ (UTC)};
\end{tikzpicture}
\end{document}
